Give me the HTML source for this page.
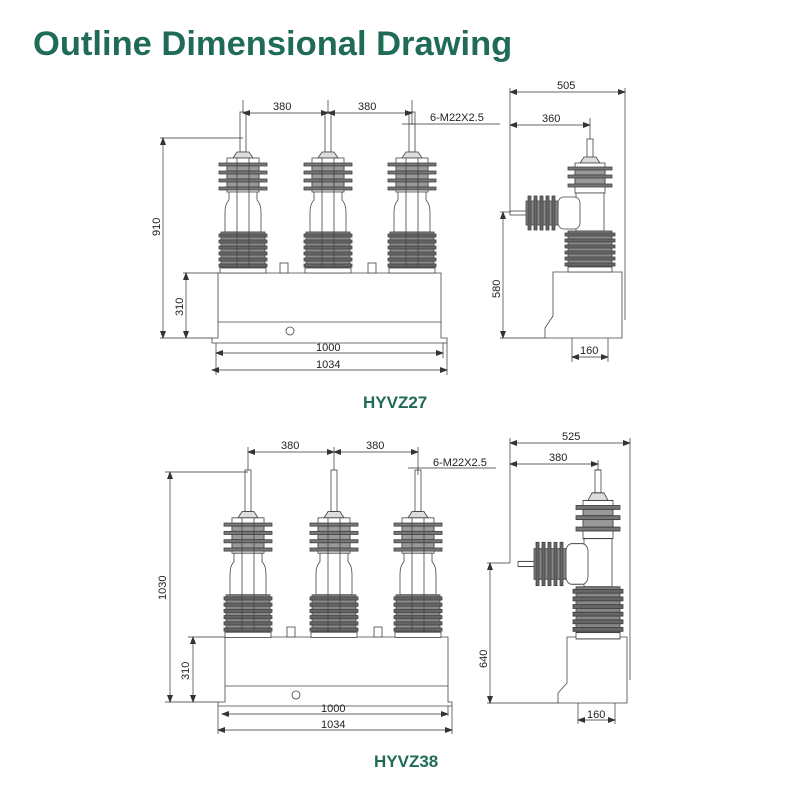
<!DOCTYPE html>
<html><head><meta charset="utf-8"><style>
body{margin:0;background:#fff;width:800px;height:800px;overflow:hidden}
svg{display:block}
text{font-family:"Liberation Sans",sans-serif;fill:#222}
</style></head><body>
<svg width="800" height="800" viewBox="0 0 800 800" xmlns="http://www.w3.org/2000/svg">
<defs>
<marker id="a" markerWidth="8" markerHeight="6" refX="7" refY="3" orient="auto-start-reverse" markerUnits="userSpaceOnUse"><path d="M0,0 L8,3 L0,6z" fill="#333"/></marker>
<g id="pole" stroke="#444" stroke-width="0.8">
  <rect x="-3" y="0" width="6" height="40" fill="#fff"/>
  <path d="M-6,40 L6,40 L10,46 L-10,46z" fill="#ddd"/>
  <rect x="-16" y="46" width="32" height="34" fill="#fff"/>
  <rect x="-24" y="51" width="48" height="3" fill="#777"/>
  <rect x="-16" y="54" width="32" height="5" fill="#999"/>
  <rect x="-24" y="59" width="48" height="3" fill="#777"/>
  <rect x="-16" y="62" width="32" height="5" fill="#999"/>
  <rect x="-24" y="67" width="48" height="3" fill="#777"/>
  <rect x="-16" y="70" width="32" height="5" fill="#999"/>
  <rect x="-24" y="75" width="48" height="3" fill="#777"/>
  <path d="M-14,80 L-14,88 Q-18,92 -18,100 L-18,120 L18,120 L18,100 Q18,92 14,88 L14,80z" fill="#fff"/>
  <line x1="-6" y1="46" x2="-6" y2="120"/><line x1="6" y1="46" x2="6" y2="120"/>
  <rect x="-22" y="120" width="44" height="36" fill="#888"/>
  <rect x="-24" y="122" width="48" height="3" fill="#666"/>
  <rect x="-24" y="128" width="48" height="3" fill="#666"/>
  <rect x="-24" y="134" width="48" height="3" fill="#666"/>
  <rect x="-24" y="140" width="48" height="3" fill="#666"/>
  <rect x="-24" y="146" width="48" height="3" fill="#666"/>
  <rect x="-24" y="152" width="48" height="3" fill="#666"/>
  <line x1="-6" y1="120" x2="-6" y2="156"/><line x1="6" y1="120" x2="6" y2="156"/>
  <rect x="-23" y="156" width="46" height="5" fill="#fff"/>
</g>
<g id="side" stroke="#444" stroke-width="0.8">
  <rect x="-3" y="0" width="6" height="18" fill="#fff"/>
  <path d="M-6,18 L6,18 L10,24 L-10,24z" fill="#ddd"/>
  <rect x="-15" y="24" width="30" height="30" fill="#fff"/>
  <rect x="-22" y="28" width="44" height="3" fill="#777"/>
  <rect x="-15" y="31" width="30" height="5" fill="#999"/>
  <rect x="-22" y="36" width="44" height="3" fill="#777"/>
  <rect x="-15" y="39" width="30" height="6" fill="#999"/>
  <rect x="-22" y="45" width="44" height="3" fill="#777"/>
  <rect x="-14" y="54" width="28" height="38" fill="#fff"/>
  <rect x="-22" y="92" width="44" height="36" fill="#888"/>
  <rect x="-25" y="94" width="50" height="3" fill="#666"/>
  <rect x="-25" y="100" width="50" height="3" fill="#666"/>
  <rect x="-25" y="106" width="50" height="3" fill="#666"/>
  <rect x="-25" y="112" width="50" height="3" fill="#666"/>
  <rect x="-25" y="118" width="50" height="3" fill="#666"/>
  <rect x="-25" y="124" width="50" height="3" fill="#666"/>
  <rect x="-22" y="128" width="44" height="5" fill="#fff"/>
  <rect x="-32" y="58" width="22" height="32" rx="6" fill="#fff"/>
  <rect x="-64" y="62" width="32" height="24" fill="#888"/>
  <g fill="#666"><rect x="-62" y="57" width="3" height="34"/><rect x="-56" y="57" width="3" height="34"/><rect x="-50" y="57" width="3" height="34"/><rect x="-44" y="57" width="3" height="34"/><rect x="-38" y="57" width="3" height="34"/></g>
  <rect x="-80" y="72" width="16" height="4" fill="#fff"/>
</g>
</defs>

<text x="33" y="55" font-size="34.5" font-weight="bold" style="fill:#1f6b57">Outline Dimensional Drawing</text>

<!-- TOP FRONT -->
<g fill="none" stroke="#444" stroke-width="0.8">
<path d="M218,273 L441,273 L441,338 L447,338 L447,343 L212,343 L212,338 L218,338z" fill="#fff"/>
<line x1="218" y1="322" x2="441" y2="322"/>
<circle cx="290" cy="331" r="4" fill="#fff"/>
<rect x="280" y="263" width="8" height="10" fill="#fff"/><rect x="368" y="263" width="8" height="10" fill="#fff"/>
</g>
<use href="#pole" x="243" y="112"/><use href="#pole" x="328" y="112"/><use href="#pole" x="412" y="112"/>
<g stroke="#333" stroke-width="0.7" fill="none">
<line x1="243" y1="100" x2="243" y2="112"/><line x1="328" y1="100" x2="328" y2="112"/><line x1="412" y1="100" x2="412" y2="125"/>
<line x1="243" y1="113" x2="328" y2="113" marker-start="url(#a)" marker-end="url(#a)"/>
<line x1="328" y1="113" x2="412" y2="113" marker-start="url(#a)" marker-end="url(#a)"/>
<line x1="402" y1="124" x2="500" y2="124"/>
<line x1="160" y1="138" x2="243" y2="138"/><line x1="163" y1="138" x2="163" y2="338" marker-start="url(#a)" marker-end="url(#a)"/>
<line x1="183" y1="273" x2="218" y2="273"/><line x1="160" y1="338" x2="212" y2="338"/>
<line x1="186" y1="273" x2="186" y2="338" marker-start="url(#a)" marker-end="url(#a)"/>
<line x1="216" y1="343" x2="216" y2="375"/><line x1="443" y1="343" x2="443" y2="358"/><line x1="447" y1="343" x2="447" y2="375"/>
<line x1="216" y1="353" x2="443" y2="353" marker-start="url(#a)" marker-end="url(#a)"/>
<line x1="212" y1="370" x2="447" y2="370" marker-start="url(#a)" marker-end="url(#a)"/>
</g>
<g font-size="11">
<text x="273" y="110">380</text><text x="358" y="110">380</text><text x="430" y="121">6-M22X2.5</text>
<text x="316" y="351">1000</text><text x="316" y="368">1034</text>
<text transform="translate(160,236) rotate(-90)">910</text>
<text transform="translate(183,316) rotate(-90)">310</text>
</g>

<!-- TOP SIDE -->
<path d="M553,272 L622,272 L622,338 L545,338 L545,328 L553,316z" fill="#fff" stroke="#444" stroke-width="0.8"/>
<line x1="625" y1="272" x2="625" y2="320" stroke="#444" stroke-width="0.8"/>
<use href="#side" x="590" y="139"/>
<g stroke="#333" stroke-width="0.7" fill="none">
<line x1="510" y1="88" x2="510" y2="212"/><line x1="625" y1="88" x2="625" y2="272"/>
<line x1="510" y1="92" x2="625" y2="92" marker-start="url(#a)" marker-end="url(#a)"/>
<line x1="590" y1="118" x2="590" y2="139"/>
<line x1="510" y1="125" x2="590" y2="125" marker-start="url(#a)" marker-end="url(#a)"/>
<line x1="500" y1="212" x2="510" y2="212"/><line x1="500" y1="338" x2="545" y2="338"/>
<line x1="503" y1="212" x2="503" y2="338" marker-start="url(#a)" marker-end="url(#a)"/>
<line x1="572" y1="338" x2="572" y2="362"/><line x1="608" y1="338" x2="608" y2="362"/>
<line x1="572" y1="357" x2="608" y2="357" marker-start="url(#a)" marker-end="url(#a)"/>
</g>
<g font-size="11">
<text x="557" y="89">505</text><text x="542" y="122">360</text><text x="580" y="354">160</text>
<text transform="translate(500,298) rotate(-90)">580</text>
</g>
<text x="363" y="408" font-size="17" font-weight="bold" style="fill:#1f6b57">HYVZ27</text>

<!-- BOTTOM FRONT -->
<g fill="none" stroke="#444" stroke-width="0.8">
<path d="M225,637 L448,637 L448,702 L452,702 L452,706 L218,706 L218,702 L225,702z" fill="#fff"/>
<line x1="225" y1="686" x2="448" y2="686"/>
<circle cx="296" cy="695" r="4" fill="#fff"/>
<rect x="287" y="627" width="8" height="10" fill="#fff"/><rect x="374" y="627" width="8" height="10" fill="#fff"/>
</g>
<g transform="translate(0,470) scale(1,1.04)"><use href="#pole" x="248"/><use href="#pole" x="334"/><use href="#pole" x="418"/></g>
<g stroke="#333" stroke-width="0.7" fill="none">
<line x1="248" y1="447" x2="248" y2="470"/><line x1="334" y1="447" x2="334" y2="470"/><line x1="418" y1="447" x2="418" y2="475"/>
<line x1="248" y1="452" x2="334" y2="452" marker-start="url(#a)" marker-end="url(#a)"/>
<line x1="334" y1="452" x2="418" y2="452" marker-start="url(#a)" marker-end="url(#a)"/>
<line x1="408" y1="468" x2="496" y2="468"/>
<line x1="165" y1="472" x2="248" y2="472"/><line x1="170" y1="472" x2="170" y2="702" marker-start="url(#a)" marker-end="url(#a)"/>
<line x1="188" y1="637" x2="225" y2="637"/><line x1="165" y1="702" x2="218" y2="702"/>
<line x1="193" y1="637" x2="193" y2="702" marker-start="url(#a)" marker-end="url(#a)"/>
<line x1="218" y1="706" x2="218" y2="734"/><line x1="448" y1="706" x2="448" y2="716"/><line x1="452" y1="706" x2="452" y2="734"/>
<line x1="222" y1="714" x2="448" y2="714" marker-start="url(#a)" marker-end="url(#a)"/>
<line x1="218" y1="730" x2="452" y2="730" marker-start="url(#a)" marker-end="url(#a)"/>
</g>
<g font-size="11">
<text x="281" y="449">380</text><text x="366" y="449">380</text><text x="433" y="466">6-M22X2.5</text>
<text x="321" y="712">1000</text><text x="321" y="728">1034</text>
<text transform="translate(166,600) rotate(-90)">1030</text>
<text transform="translate(189,680) rotate(-90)">310</text>
</g>

<!-- BOTTOM SIDE -->
<path d="M567,637 L627,637 L627,703 L558,703 L558,693 L567,683z" fill="#fff" stroke="#444" stroke-width="0.8"/>
<line x1="630" y1="637" x2="630" y2="680" stroke="#444" stroke-width="0.8"/>
<g transform="translate(598,470) scale(1,1.27)"><use href="#side"/></g>
<g stroke="#333" stroke-width="0.7" fill="none">
<line x1="510" y1="438" x2="510" y2="563"/><line x1="630" y1="438" x2="630" y2="637"/>
<line x1="510" y1="443" x2="630" y2="443" marker-start="url(#a)" marker-end="url(#a)"/>
<line x1="598" y1="460" x2="598" y2="470"/>
<line x1="510" y1="464" x2="598" y2="464" marker-start="url(#a)" marker-end="url(#a)"/>
<line x1="487" y1="563" x2="510" y2="563"/><line x1="487" y1="703" x2="558" y2="703"/>
<line x1="490" y1="563" x2="490" y2="703" marker-start="url(#a)" marker-end="url(#a)"/>
<line x1="578" y1="703" x2="578" y2="724"/><line x1="615" y1="703" x2="615" y2="724"/>
<line x1="578" y1="720" x2="615" y2="720" marker-start="url(#a)" marker-end="url(#a)"/>
</g>
<g font-size="11">
<text x="562" y="440">525</text><text x="549" y="461">380</text><text x="587" y="718">160</text>
<text transform="translate(487,668) rotate(-90)">640</text>
</g>
<text x="374" y="767" font-size="17" font-weight="bold" style="fill:#1f6b57">HYVZ38</text>
</svg>
</body></html>
